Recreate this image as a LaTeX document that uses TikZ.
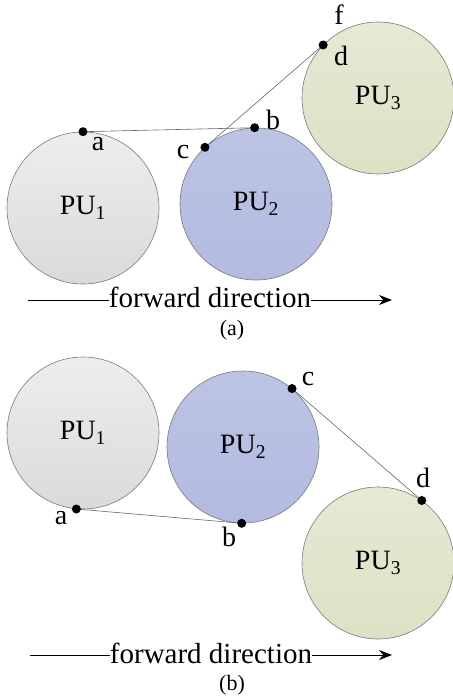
\documentclass[tikz,border=0pt]{standalone}
\usepackage{fontspec}
\setmainfont{Liberation Serif}
\usetikzlibrary{arrows.meta}
\definecolor{puA}{HTML}{E6E6E6}
\definecolor{puAb}{HTML}{DADADA}
\definecolor{puB}{HTML}{BCC4E4}
\definecolor{puBb}{HTML}{B2BBE0}
\definecolor{puC}{HTML}{E4EAD4}
\definecolor{puCb}{HTML}{DBE2C4}
\definecolor{rim}{HTML}{7A7A7A}
\tikzset{
  pu/.style={circle, draw=rim, line width=0.6pt, minimum size=152pt, inner sep=0pt, font=\fontsize{28}{30}\selectfont},
  gA/.style={pu, top color=puA!70!white, bottom color=puAb},
  gB/.style={pu, top color=puB, bottom color=puBb},
  gC/.style={pu, top color=puC, bottom color=puCb},
  dotp/.style={circle, fill=black, inner sep=0pt, minimum size=9pt},
  lbl/.style={inner sep=0pt, font=\fontsize{28}{30}\selectfont},
  belt/.style={draw=black!60, line width=0.6pt},
  fwd/.style={inner sep=0pt, anchor=base, font=\fontsize{29}{32}\selectfont},
  captxt/.style={inner sep=0pt, font=\fontsize{22}{24}\selectfont},
  dirline/.style={draw=black, line width=0.8pt},
  tipx/.style={-{Stealth[length=13pt,width=10pt]}},
}
\begin{document}
\begin{tikzpicture}[x=1pt,y=-1pt]
\useasboundingbox (0,0) rectangle (452,698);
% ---------- panel (a)
\node[gA] (a1) at (83,208) {PU\textsubscript{1}};
\node[gB] (a2) at (256,204) {PU\textsubscript{2}};
\node[gC] (a3) at (378,98) {PU\textsubscript{3}};
\coordinate (aA) at (a1.90);
\coordinate (aB) at (a2.91);
\coordinate (aC) at (a2.132);
\coordinate (aD) at (a3.136);
\draw[belt] (aA) -- (aB);
\draw[belt] (aC) -- (aD);
\node[dotp] (daA) at (aA) {};
\node[dotp] (daB) at (aB) {};
\node[dotp] (daC) at (aC) {};
\node[dotp] (daD) at (aD) {};
\node[lbl] (laA) at (98,144) {a};
\node[lbl] (laB) at (273,120) {b};
\node[lbl] (laC) at (183,152) {c};
\node[lbl] (laD) at (341,56) {d};
\node[lbl] (laF) at (339,15) {f};
\node[fwd] (fwA) at (210,307) {forward direction};
\coordinate (sA) at (28,300);
\coordinate (tA) at (392,300);
\draw[dirline] (sA) -- (sA -| fwA.west);
\draw[dirline, tipx] (tA -| fwA.east) -- (tA);
\node[captxt] (capA) at (232,330) {(a)};
% ---------- panel (b)
\node[gA] (b1) at (83,433) {PU\textsubscript{1}};
\node[gB] (b2) at (243,447) {PU\textsubscript{2}};
\node[gC] (b3) at (378,563) {PU\textsubscript{3}};
\coordinate (bA) at (b1.265);
\coordinate (bB) at (b2.269);
\coordinate (bC) at (b2.50);
\coordinate (bD) at (b3.55);
\draw[belt] (bA) -- (bB);
\draw[belt] (bC) -- (bD);
\node[dotp] (dbA) at (bA) {};
\node[dotp] (dbB) at (bB) {};
\node[dotp] (dbC) at (bC) {};
\node[dotp] (dbD) at (bD) {};
\node[lbl] (lbA) at (61,518) {a};
\node[lbl] (lbB) at (229,537) {b};
\node[lbl] (lbC) at (308,379) {c};
\node[lbl] (lbD) at (423,478) {d};
\node[fwd] (fwB) at (211,663) {forward direction};
\coordinate (sB) at (30,655);
\coordinate (tB) at (392,655);
\draw[dirline] (sB) -- (sB -| fwB.west);
\draw[dirline, tipx] (tB -| fwB.east) -- (tB);
\node[captxt] (capB) at (232,685) {(b)};
\end{tikzpicture}
\end{document}
